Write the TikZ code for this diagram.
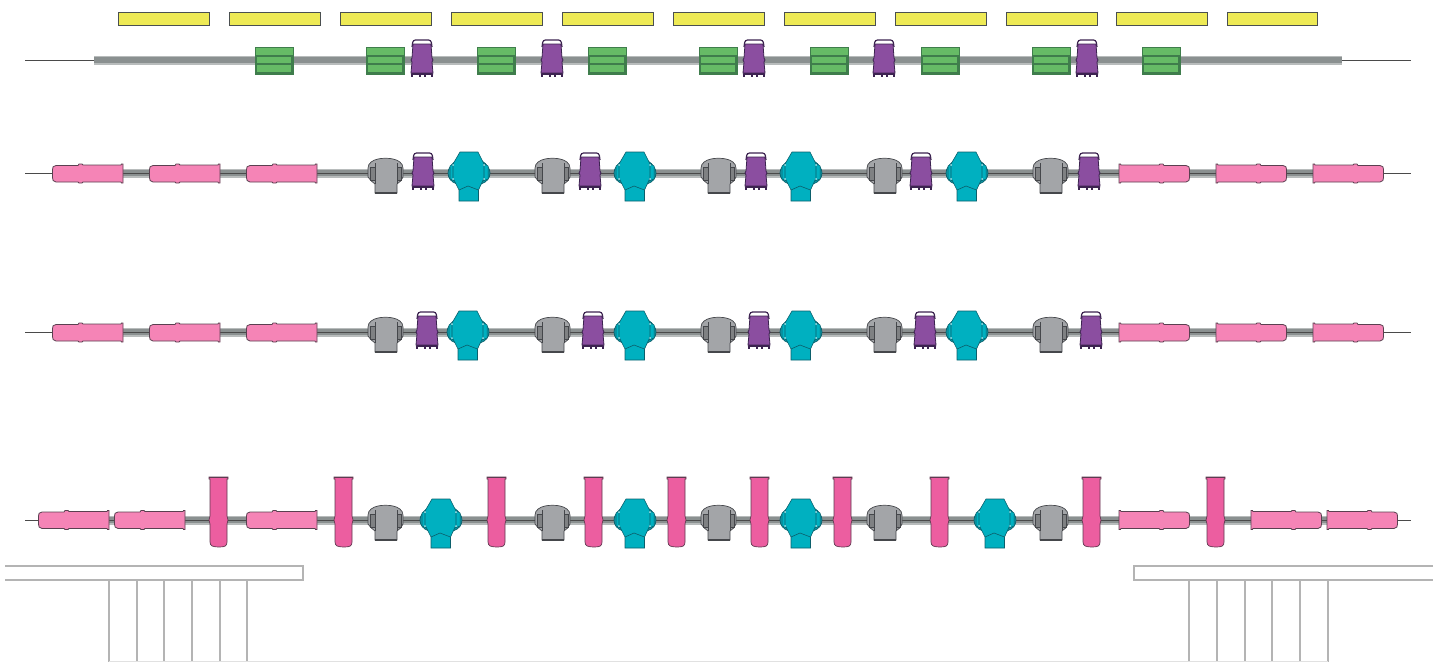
\documentclass[tikz,border=0pt]{standalone}
\definecolor{railC}{HTML}{8A9090}
\definecolor{railL}{HTML}{B8BCBC}
\definecolor{wireC}{HTML}{4A4A4A}
\definecolor{yelF}{HTML}{EEEA55}
\definecolor{yelD}{HTML}{4A4F50}
\definecolor{grnF}{HTML}{66BB66}
\definecolor{grnD}{HTML}{3F7D4C}
\definecolor{purF}{HTML}{8B4EA0}
\definecolor{purD}{HTML}{3C2350}
\definecolor{gryF}{HTML}{A3A5A8}
\definecolor{gryD}{HTML}{45474B}
\definecolor{tealF}{HTML}{00B0C0}
\definecolor{tealM}{HTML}{0A98A6}
\definecolor{tealD}{HTML}{0B5F6B}
\definecolor{pnkF}{HTML}{F584B6}
\definecolor{pnkD}{HTML}{5A4050}
\definecolor{magF}{HTML}{EC5EA0}
\definecolor{magD}{HTML}{5E3A50}
\definecolor{platC}{HTML}{B4B4B4}
\tikzset{
  x=1pt,y=-1pt,
  line join=round,
  wire/.style={draw=wireC,line width=1pt},
  railouter/.style={draw=railL,line width=9pt},
  railcore/.style={draw=railC,line width=6pt},
  platform/.style={draw=platC,line width=1.1pt},
  yellowbar/.style={fill=yelF,draw=yelD,line width=.9pt},
  pics/greenunit/.style={code={
    \path[fill=grnF,draw=grnD,line width=.8pt] (-19,-13) rectangle (19,14);
    \draw[grnD,line width=1.1pt] (-18,-4) rectangle (18,4);
    \draw[grnD,line width=1.1pt] (-18,4) -- (-18,13) -- (18,13) -- (18,4);
  }},
  pics/purpleunit/.style={code={
    \draw[purD,line width=1.2pt,fill=white,rounded corners=2.5pt] (-10,-13) -- (-9,-20) -- (9,-20) -- (10,-13);
    \path[fill=purF,draw=purD,line width=.8pt] (-9,-16) -- (9,-16) -- (10,-2) -- (11,0) -- (10,2) -- (11,13) -- (-11,13) -- (-10,2) -- (-11,0) -- (-10,-2) -- cycle;
    \draw[purD,line width=1.5pt,line cap=round] (-10.5,14) -- (10.5,14);
    \draw[purD,line width=2pt] (-10,14) -- (-10,17) (-2.5,14) -- (-2.5,17) (2.5,14) -- (2.5,17) (10,14) -- (10,17);
  }},
  pics/grayunit/.style={code={
    \path[fill=gryF,draw=gryD,line width=.7pt] (-7,-14) .. controls (-12,-13) and (-17,-10) .. (-17,-5) -- (-17,4) .. controls (-15,7) and (-13,9) .. (-10,11) -- (-10,20) -- (12,20) -- (12,11) .. controls (15,9) and (17,7) .. (18,4) -- (18,-5) .. controls (18,-10) and (13,-13) .. (8,-14) .. controls (4,-15) and (-3,-15) .. (-7,-14) -- cycle;
    \draw[gryD,line width=.7pt,fill=gryF!78!black] (-15,-6) rectangle (-10,7) (12,-6) rectangle (16,7);
    \draw[gryD,line width=.5pt] (-10,-10) -- (-10,11) (12,-10) -- (12,11);
    \draw[gryD,line width=1.3pt] (-10,20) -- (12,20);
  }},
  pics/tealunit/.style={code={
    \path[fill=tealM,draw=tealD,line width=.7pt] (-13,-12) .. controls (-18,-9) and (-21,-4) .. (-21,0) .. controls (-21,5) and (-18,9) .. (-12,11) -- (12,11) .. controls (18,9) and (21,5) .. (21,0) .. controls (21,-4) and (18,-9) .. (13,-12) -- cycle;
    \path[draw=tealD,line width=.5pt,fill=tealF] (-19,-7) -- (-14,-10) -- (-14,8) -- (-19,6) -- cycle;
    \path[draw=tealD,line width=.5pt,fill=tealF] (19,-7) -- (14,-10) -- (14,8) -- (19,6) -- cycle;
    \path[fill=tealF,draw=tealD,line width=.6pt] (-9,-21) -- (9,-21) -- (15,-9) -- (15,5) -- (9.5,17) -- (9.5,28) -- (-10,28) -- (-10,17) -- (-16,5) -- (-16,-9) -- cycle;
    \draw[tealD,line width=.6pt] (-10,17) -- (-1,13) -- (9.5,17);
    \fill[white!65!tealF] (-16,-8) circle (1) (-16,6) circle (1) (15,-8) circle (1) (15,6) circle (1);
  }},
  pics/pinkunit/.style={code={
    \path[fill=pnkF,draw=pnkD,line width=.8pt] (-32,-8) -- (-10,-8) -- (-9,-9.5) -- (-6,-9.5) -- (-5,-8.5) -- (33,-8.5) -- (33.5,-9.5) -- (35,-9.5) -- (35,9.5) -- (33.5,9.5) -- (33,8.5) -- (-5,8.5) -- (-6,9.5) -- (-9,9.5) -- (-10,8.5) -- (-32,8.5) .. controls (-35,8.5) and (-35.5,6) .. (-35.5,4) -- (-35.5,-4) .. controls (-35.5,-6) and (-35,-8) .. (-32,-8) -- cycle;
  }},
  pics/magentaunit/.style={code={
    \path[fill=magF,draw=magD,line width=.7pt] (-10,-43) -- (9,-43) -- (9,-41) -- (8,-41) -- (8,-4) -- (9,0) -- (8,4) -- (8,22) .. controls (8,26) and (6,27) .. (0,27) .. controls (-6,27) and (-9,26) .. (-9,22) -- (-9,4) -- (-10,0) -- (-9,-4) -- (-9,-41) -- (-10,-41) -- cycle;
    \draw[magD,line width=1pt] (-10,-43) -- (9,-43);
  }}
}
\begin{document}
\begin{tikzpicture}
\useasboundingbox (0,0) rectangle (1443,662);
% wires and rails
\draw[wire] (25,60) -- (1411,60);
\draw[draw=railL,line width=9pt] (94,60) -- (1342,60);
\draw[draw=railC,line width=6.5pt] (94,60) -- (1342,60);
\foreach \r in {173,332,520}{
  \draw[railouter] (60,\r) -- (1380,\r);
  \draw[railcore] (60,\r) -- (1380,\r);
  \draw[wire] (25,\r) -- (1411,\r);
}
% yellow bars
\foreach \a/\b in {118/209,229/320,340/431,451/542,562/653,673/764,784/875,895/986,1006/1097,1116/1207,1227/1317}
  \path[yellowbar] (\a,12) rectangle (\b,25);
% row 1
\foreach \c in {274,385,496,607,718,829,940,1051,1161}
  \pic at (\c,60) {greenunit};
\foreach \c in {422,552,754,884,1087}
  \pic at (\c,60) {purpleunit};
% row 2
\foreach \c in {88,185,282} \pic at (\c,173.5) {pinkunit};
\foreach \c in {1154,1251,1348} \pic[xscale=-1] at (\c,173.5) {pinkunit};
\foreach \c in {385,552,718,884,1050} \pic at (\c,173) {grayunit};
\foreach \c in {423,590,756,921,1089} \pic at (\c,173) {purpleunit};
\foreach \c in {469,635,801,967} \pic at (\c,173) {tealunit};
% row 3
\foreach \c in {88,185,282} \pic at (\c,332.5) {pinkunit};
\foreach \c in {1154,1251,1348} \pic[xscale=-1] at (\c,332.5) {pinkunit};
\foreach \c in {385,552,718,884,1050} \pic at (\c,332) {grayunit};
\foreach \c in {427,593,759,925,1091} \pic at (\c,332) {purpleunit};
\foreach \c in {468,635,801,967} \pic at (\c,332) {tealunit};
% row 4
\foreach \c in {74,150,282} \pic at (\c,520) {pinkunit};
\foreach \c in {1154,1286,1362} \pic[xscale=-1] at (\c,520) {pinkunit};
\foreach \c in {385,552,718,884,1050} \pic at (\c,520) {grayunit};
\foreach \c in {441,635,801,995} \pic at (\c,520) {tealunit};
\foreach \c in {219,344,497,594,677,760,843,940,1092,1216} \pic at (\c,520) {magentaunit};
% platforms
\draw[platform] (5,566) -- (303,566) -- (303,580) -- (5,580);
\draw[platform] (1433,566) -- (1134,566) -- (1134,580) -- (1433,580);
\foreach \c in {109,137,164,192,220,247,1189,1217,1245,1272,1300,1328}
  \draw[platform] (\c,580) -- (\c,662);
\draw[platC!40!white,line width=.8pt] (109,661) -- (1328,661);
\end{tikzpicture}
\end{document}
